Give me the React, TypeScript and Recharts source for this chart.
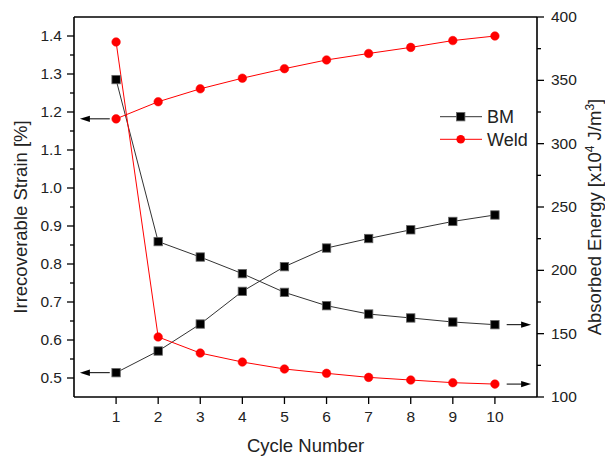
import { ComposedChart, Legend, Line, ReferenceLine, XAxis, YAxis } from 'recharts';

const cycles = [1, 2, 3, 4, 5, 6, 7, 8, 9, 10];
const bmStrain = [0.514, 0.571, 0.642, 0.728, 0.793, 0.842, 0.867, 0.89, 0.912, 0.929];
const weldStrain = [1.182, 1.227, 1.261, 1.289, 1.314, 1.337, 1.354, 1.37, 1.388, 1.4];
const bmEnergy = [350.6, 222.7, 210.5, 197.4, 182.6, 172.1, 165.5, 162.4, 159.2, 157.1];
const weldEnergy = [380.3, 147.4, 134.7, 127.6, 122.1, 118.7, 115.5, 113.4, 111.3, 110.2];

const cycleTicks = [1, 2, 3, 4, 5, 6, 7, 8, 9, 10];
const strainMajor = [0.5, 0.6, 0.7, 0.8, 0.9, 1.0, 1.1, 1.2, 1.3, 1.4];
const strainMinor = [0.55, 0.65, 0.75, 0.85, 0.95, 1.05, 1.15, 1.25, 1.35];
const energyMajor = [100, 150, 200, 250, 300, 350, 400];
const energyMinor = [125, 175, 225, 275, 325, 375];

// arrows pointing at the axis each curve belongs to (x in cycle units)
const leftArrowX = [0.85, 0.14];
const rightArrowX = [10.28, 10.86];

const data = cycles.map((c, i) => ({
  cycle: c,
  bmStrain: bmStrain[i],
  weldStrain: weldStrain[i],
  bmEnergy: bmEnergy[i],
  weldEnergy: weldEnergy[i],
}));

const FONT = '"Liberation Sans", Arial, sans-serif';
const INK = '#222';
const RED = '#ff0000';

// eslint-disable-next-line @typescript-eslint/no-explicit-any
function StrainTick(props: any) {
  const { x, y, payload } = props;
  const major = strainMajor.includes(payload.value);
  return (
    <g>
      <line x1={x} x2={x - (major ? 7 : 4)} y1={y} y2={y} stroke="#000" strokeWidth={1.3} />
      {major && (
        <text x={x - 12} y={y + 5} textAnchor="end" fontSize={15.5} fill={INK} fontFamily={FONT}>
          {payload.value.toFixed(1)}
        </text>
      )}
    </g>
  );
}

// eslint-disable-next-line @typescript-eslint/no-explicit-any
function EnergyTick(props: any) {
  const { x, y, payload } = props;
  const major = energyMajor.includes(payload.value);
  return (
    <g>
      <line x1={x} x2={x + (major ? 7 : 4)} y1={y} y2={y} stroke="#000" strokeWidth={1.3} />
      {major && (
        <text x={x + 14} y={y + 5} textAnchor="start" fontSize={15.5} fill={INK} fontFamily={FONT}>
          {payload.value}
        </text>
      )}
    </g>
  );
}

// eslint-disable-next-line @typescript-eslint/no-explicit-any
function CycleTick(props: any) {
  const { x, y, payload } = props;
  return (
    <g>
      <line x1={x} x2={x} y1={y} y2={y + 7} stroke="#000" strokeWidth={1.3} />
      <text x={x} y={y + 25} textAnchor="middle" fontSize={15.5} fill={INK} fontFamily={FONT}>
        {payload.value}
      </text>
    </g>
  );
}

// eslint-disable-next-line @typescript-eslint/no-explicit-any
function SquareDot(props: any) {
  const { cx, cy, index } = props;
  if (cx == null || cy == null) return null;
  return <rect key={`sq-${index}`} x={cx - 4.2} y={cy - 4.2} width={8.4} height={8.4} fill="#000" stroke="#666" strokeWidth={0.8} />;
}

// eslint-disable-next-line @typescript-eslint/no-explicit-any
function RoundDot(props: any) {
  const { cx, cy, index } = props;
  if (cx == null || cy == null) return null;
  return <circle key={`ci-${index}`} cx={cx} cy={cy} r={4.3} fill={RED} stroke={RED} strokeWidth={0.5} />;
}

// eslint-disable-next-line @typescript-eslint/no-explicit-any
function Arrow(props: any) {
  const { x1, y1, x2, y2 } = props;
  const dir = Math.sign(x2 - x1) || 1;
  return (
    <g>
      <line x1={x1} y1={y1} x2={x2 - dir * 6} y2={y2} stroke="#000" strokeWidth={1} />
      <polygon points={`${x2},${y2} ${x2 - dir * 10},${y2 - 3.2} ${x2 - dir * 10},${y2 + 3.2}`} fill="#000" />
    </g>
  );
}

function LegendBox() {
  return (
    <svg width={110} height={50} style={{ overflow: 'visible' }}>
      <line x1={2} x2={44} y1={12.7} y2={12.7} stroke="#333" strokeWidth={1} />
      <rect x={18.5} y={8.5} width={8.4} height={8.4} fill="#000" stroke="#666" strokeWidth={0.8} />
      <text x={49} y={19} fontSize={18} fill={INK} fontFamily={FONT}>BM</text>
      <line x1={2} x2={44} y1={35.3} y2={35.3} stroke={RED} strokeWidth={1} />
      <circle cx={22.7} cy={35.3} r={4.3} fill={RED} />
      <text x={49} y={42} fontSize={18} fill={INK} fontFamily={FONT}>Weld</text>
    </svg>
  );
}

export default function App() {
  return (
    <div style={{ position: 'absolute', left: 0, top: 0, background: '#fff' }}>
      <ComposedChart width={605} height={456} data={data} margin={{ top: 17, right: 0, bottom: 0, left: 0 }}>
        <XAxis
          dataKey="cycle"
          type="number"
          domain={[0, 11]}
          ticks={cycleTicks}
          interval={0}
          height={59}
          tickSize={0}
          tickMargin={0}
          tickLine={false}
          tick={<CycleTick />}
          axisLine={{ stroke: '#000', strokeWidth: 1.6 }}
          label={(p: any) => {
            const vb = p.viewBox;
            return (
              <text x={vb.x + vb.width / 2} y={vb.y + 55} textAnchor="middle" fontSize={18.5} fill={INK} fontFamily={FONT}>
                Cycle Number
              </text>
            );
          }}
        />
        <YAxis
          yAxisId="strain"
          orientation="left"
          type="number"
          domain={[0.45, 1.45]}
          ticks={[...strainMajor, ...strainMinor]}
          interval={0}
          width={74}
          tickSize={0}
          tickMargin={0}
          tickLine={false}
          tick={<StrainTick />}
          axisLine={{ stroke: '#000', strokeWidth: 1.6 }}
          label={(p: any) => {
            const vb = p.viewBox;
            const x = vb.x + 27;
            const y = vb.y + vb.height / 2 + 10;
            return (
              <text x={x} y={y} transform={`rotate(-90, ${x}, ${y})`} textAnchor="middle" fontSize={18.5} fill={INK} fontFamily={FONT}>
                Irrecoverable Strain [%]
              </text>
            );
          }}
        />
        <YAxis
          yAxisId="energy"
          orientation="right"
          type="number"
          domain={[100, 400]}
          ticks={[...energyMajor, ...energyMinor]}
          interval={0}
          width={68}
          tickSize={0}
          tickMargin={0}
          tickLine={false}
          tick={<EnergyTick />}
          axisLine={{ stroke: '#000', strokeWidth: 1.6 }}
          label={(p: any) => {
            const vb = p.viewBox;
            const x = vb.x + 64;
            const y = vb.y + vb.height / 2 + 10;
            return (
              <text x={x} y={y} transform={`rotate(-90, ${x}, ${y})`} textAnchor="middle" fontSize={18.5} fill={INK} fontFamily={FONT}>
                Absorbed Energy [x10<tspan dy={-7} fontSize={12}>4</tspan>
                <tspan dy={7}> J/m</tspan>
                <tspan dy={-7} fontSize={12}>3</tspan>
                <tspan dy={7}>]</tspan>
              </text>
            );
          }}
        />
        <ReferenceLine yAxisId="strain" y={1.45} stroke="#000" strokeWidth={1.6} />

        <Line yAxisId="energy" dataKey="bmEnergy" stroke="#333" strokeWidth={1} dot={<SquareDot />} activeDot={false} isAnimationActive={false} legendType="none" />
        <Line yAxisId="strain" dataKey="bmStrain" stroke="#333" strokeWidth={1} dot={<SquareDot />} activeDot={false} isAnimationActive={false} legendType="none" />
        <Line yAxisId="energy" dataKey="weldEnergy" stroke={RED} strokeWidth={1} dot={<RoundDot />} activeDot={false} isAnimationActive={false} legendType="none" />
        <Line yAxisId="strain" dataKey="weldStrain" stroke={RED} strokeWidth={1} dot={<RoundDot />} activeDot={false} isAnimationActive={false} legendType="none" />

        <ReferenceLine
          yAxisId="strain"
          segment={[{ x: leftArrowX[0], y: bmStrain[0] }, { x: leftArrowX[1], y: bmStrain[0] }]}
          shape={<Arrow />}
          ifOverflow="visible"
        />
        <ReferenceLine
          yAxisId="strain"
          segment={[{ x: leftArrowX[0], y: weldStrain[0] }, { x: leftArrowX[1], y: weldStrain[0] }]}
          shape={<Arrow />}
          ifOverflow="visible"
        />
        <ReferenceLine
          yAxisId="energy"
          segment={[{ x: rightArrowX[0], y: bmEnergy[9] }, { x: rightArrowX[1], y: bmEnergy[9] }]}
          shape={<Arrow />}
          ifOverflow="visible"
        />
        <ReferenceLine
          yAxisId="energy"
          segment={[{ x: rightArrowX[0], y: weldEnergy[9] }, { x: rightArrowX[1], y: weldEnergy[9] }]}
          shape={<Arrow />}
          ifOverflow="visible"
        />

        <Legend
          layout="vertical"
          align="center"
          verticalAlign="middle"
          content={<LegendBox />}
          wrapperStyle={{ position: 'absolute', left: 438, top: 104, width: 110, height: 50 }}
        />
      </ComposedChart>
    </div>
  );
}
